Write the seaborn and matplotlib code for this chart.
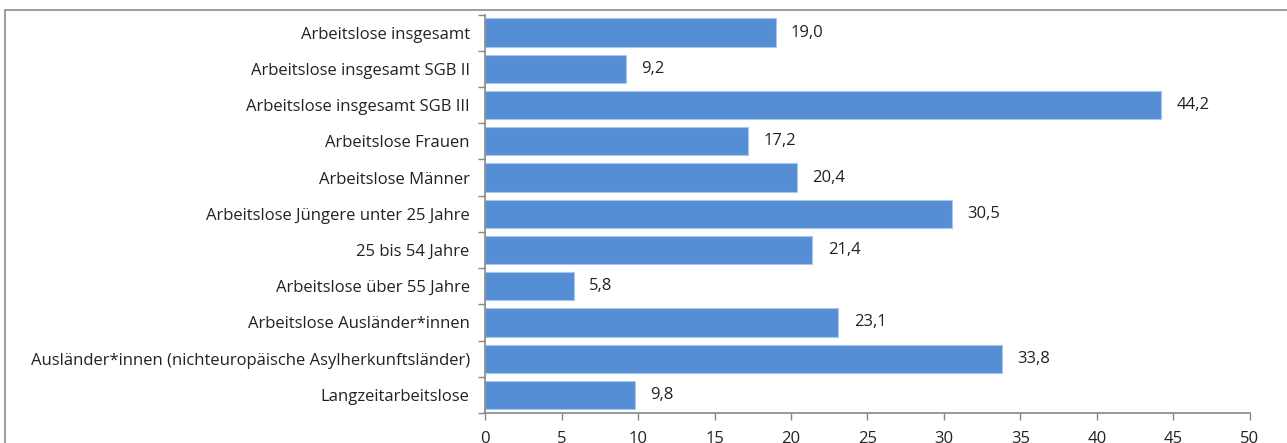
import matplotlib
matplotlib.use("Agg")
import matplotlib.pyplot as plt
import seaborn as sns
import pandas as pd
import numpy as np
from matplotlib.patches import Rectangle

categories = [
    "Arbeitslose insgesamt",
    "Arbeitslose insgesamt SGB II",
    "Arbeitslose insgesamt SGB III",
    "Arbeitslose Frauen",
    "Arbeitslose Männer",
    "Arbeitslose Jüngere unter 25 Jahre",
    "25 bis 54 Jahre",
    "Arbeitslose über 55 Jahre",
    "Arbeitslose Ausländer*innen",
    "Ausländer*innen (nichteuropäische Asylherkunftsländer)",
    "Langzeitarbeitslose",
]
values = [19.0, 9.2, 44.2, 17.2, 20.4, 30.5, 21.4, 5.8, 23.1, 33.8, 9.8]
x_ticks = [0, 5, 10, 15, 20, 25, 30, 35, 40, 45, 50]

sns.set_theme(style="white")
plt.rcParams['font.family'] = ['Open Sans', 'DejaVu Sans']

df = pd.DataFrame({"cat": categories, "val": values})

fig = plt.figure(figsize=(12.87, 4.43), dpi=100)
ax = fig.add_axes([485/1287, 1-413/443, (1250-485)/1287, (413-14.5)/443])

sns.barplot(data=df, x="val", y="cat", orient="h", color="#558ED5",
            saturation=1, width=0.78, edgecolor="#A9C6EC", linewidth=0.8, ax=ax)

ax.set_xlim(0, 50)
ax.set_ylim(len(categories) - 0.5, -0.5)
ax.set_xticks(x_ticks)
ax.set_xticklabels([str(t) for t in x_ticks], fontsize=12, color="#222222")
ax.set_xlabel("")
ax.set_ylabel("")

# Category labels
ax.set_yticks(range(len(categories)))
ax.set_yticklabels(categories, fontsize=12, color="#222222")
ax.tick_params(axis="y", which="major", length=0, pad=11)
ax.set_yticks(np.arange(-0.5, len(categories), 1.0), minor=True)
ax.tick_params(axis="y", which="minor", length=5, color="#868686", width=1, left=True)
ax.tick_params(axis="x", which="major", length=5, color="#868686", width=1, bottom=True, pad=8)

for s in ["top", "right"]:
    ax.spines[s].set_visible(False)
for s in ["left", "bottom"]:
    ax.spines[s].set_color("#868686")
    ax.spines[s].set_linewidth(1.2)

for c in ax.containers:
    ax.bar_label(c, labels=[f"{v:.1f}".replace(".", ",") for v in values],
                 padding=11, fontsize=12, color="#222222")

# outer border (cropped chart frame)
fig.patches.append(Rectangle((5/1287, -0.2), 1.2, (443-10)/443 + 0.2,
                             transform=fig.transFigure, fill=False,
                             edgecolor="#8C8C8C", linewidth=1.2, clip_on=False))

fig.savefig("out.png", dpi=100)
